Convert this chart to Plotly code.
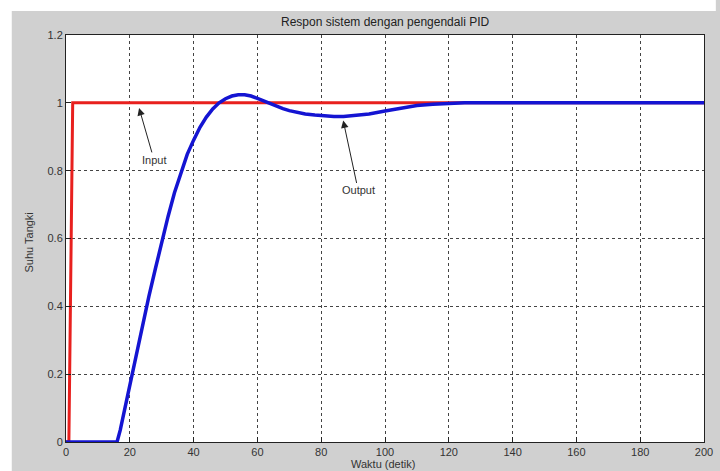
import plotly.graph_objects as go

# Input (step) signal
input_t = [0, 0.9, 1.3, 1.7, 2.1, 200]
input_y = [0, 0, 0.33, 0.67, 1.0, 1.0]

# Output (PID response) signal
output_t = [0, 16, 17, 18, 20, 22, 24, 26, 28, 30, 32, 34, 36, 38, 40, 42, 44, 46, 48, 50,
            52, 54, 56, 58, 60, 62, 64, 66, 68, 70, 72, 75, 78, 81, 84, 87, 90, 95, 100,
            105, 110, 115, 120, 125, 200]
output_y = [0, 0, 0.035, 0.08, 0.17, 0.255, 0.34, 0.43, 0.51, 0.59, 0.665, 0.735, 0.795,
            0.848, 0.89, 0.928, 0.958, 0.982, 1.0, 1.012, 1.02, 1.024, 1.024, 1.02, 1.013,
            1.005, 0.998, 0.99, 0.983, 0.977, 0.972, 0.967, 0.964, 0.961, 0.96, 0.96, 0.962,
            0.967, 0.976, 0.985, 0.992, 0.996, 0.999, 1.0, 1.0]

x_ticks = [0, 20, 40, 60, 80, 100, 120, 140, 160, 180, 200]
y_ticks = [0, 0.2, 0.4, 0.6, 0.8, 1.0, 1.2]
y_tick_labels = ["0", "0.2", "0.4", "0.6", "0.8", "1", "1.2"]

title_text = "Respon sistem dengan pengendali PID"
x_title = "Waktu (detik)"
y_title = "Suhu Tangki"

FONT = "Liberation Sans, Arial, sans-serif"

fig = go.Figure()
fig.add_trace(go.Scatter(x=input_t, y=input_y, mode="lines",
                         line=dict(color="#e8201e", width=3), showlegend=False))
fig.add_trace(go.Scatter(x=output_t, y=output_y, mode="lines",
                         line=dict(color="#1414d2", width=3.5), showlegend=False))

axis_common = dict(showline=True, linecolor="#222", linewidth=1, mirror=True,
                   ticks="inside", ticklen=5, tickcolor="#222",
                   showgrid=True, gridcolor="#444", griddash="dot", gridwidth=1,
                   zeroline=False, ticklabeloverflow="allow",
                   tickfont=dict(family=FONT, size=11, color="#333"))

fig.update_xaxes(range=[0, 200], tickvals=x_ticks, **axis_common)
fig.update_yaxes(range=[0, 1.2], tickvals=y_ticks, ticktext=y_tick_labels, **axis_common)

W, H = 720, 471
L, R, T, B = 66, 7, 35, 29
pw, ph = W - L - R, H - T - B

def px(x):
    return (x - L) / pw

def py(y):
    return (H - B - y) / ph

fig.update_layout(
    width=W, height=H,
    margin=dict(l=L, r=R, t=T, b=B),
    paper_bgcolor="#d0d0d0",
    plot_bgcolor="white",
    font=dict(family=FONT, color="#333"),
    shapes=[
        dict(type="rect", xref="paper", yref="paper", x0=px(0), x1=px(W + 5),
             y0=py(11), y1=py(-5), fillcolor="white", line=dict(width=0), layer="above"),
        dict(type="rect", xref="paper", yref="paper", x0=px(-5), x1=px(11),
             y0=py(H + 5), y1=py(-5), fillcolor="white", line=dict(width=0), layer="above"),
    ],
    annotations=[
        dict(text=title_text, xref="paper", yref="paper", x=0.5, y=py(22),
             xanchor="center", yanchor="middle", showarrow=False,
             font=dict(family=FONT, size=12, color="#222")),
        dict(text=x_title, xref="paper", yref="paper", x=px(387), y=py(464),
             xanchor="center", yanchor="middle", showarrow=False,
             font=dict(family=FONT, size=11, color="#333")),
        dict(text=y_title, xref="paper", yref="paper", x=px(28), y=py(243),
             xanchor="center", yanchor="middle", showarrow=False, textangle=-90,
             font=dict(family=FONT, size=11, color="#333")),
        dict(text="Input", x=22.9, y=0.985, xref="x", yref="y", ax=15, ay=52,
             showarrow=True, arrowhead=2, arrowsize=1.5, arrowwidth=1, arrowcolor="#222",
             font=dict(family=FONT, size=11, color="#333")),
        dict(text="Output", x=86.9, y=0.948, xref="x", yref="y", ax=15, ay=70,
             showarrow=True, arrowhead=2, arrowsize=1.5, arrowwidth=1, arrowcolor="#222",
             font=dict(family=FONT, size=11, color="#333")),
    ],
)

fig.write_html("out.html", config={"displayModeBar": False},
               post_script="document.body.style.margin='0';document.body.style.overflow='hidden';")
